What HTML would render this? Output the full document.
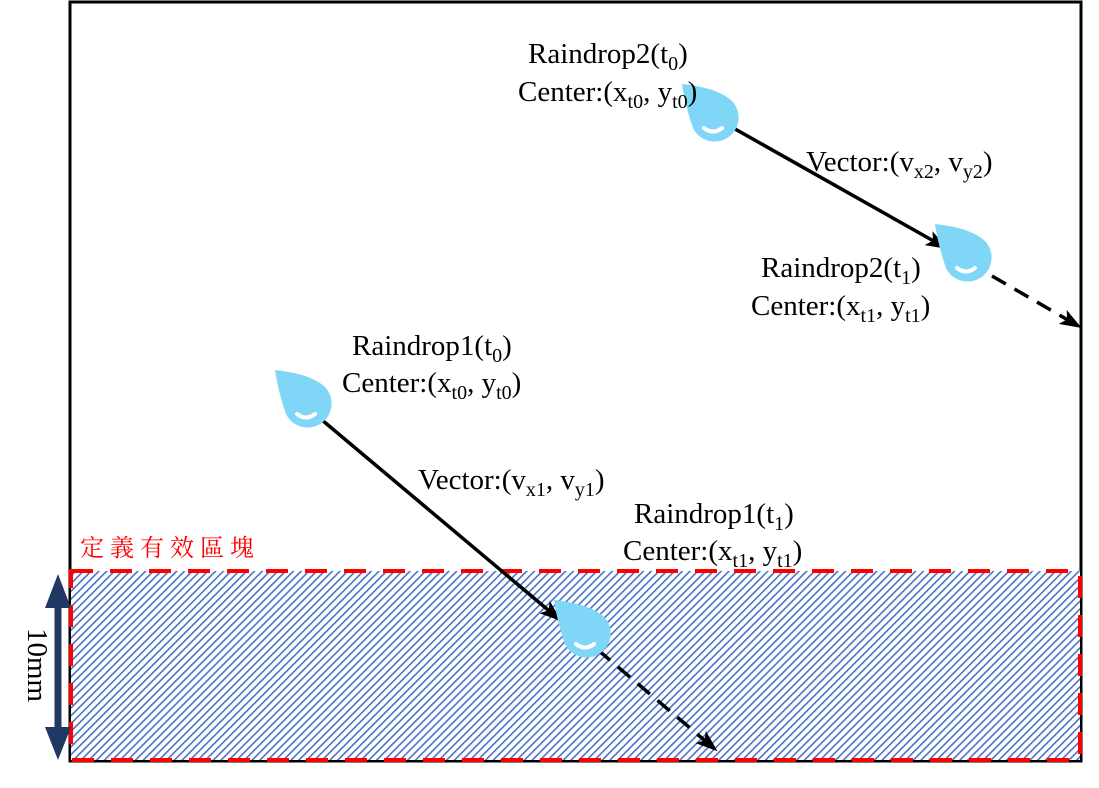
<!DOCTYPE html>
<html><head><meta charset="utf-8"><style>
body{margin:0;background:#fff;}
svg{display:block;}
</style></head><body>
<svg width="1099" height="788" viewBox="0 0 1099 788">
<defs>
<pattern id="h" width="5.5" height="5.5" patternUnits="userSpaceOnUse" patternTransform="rotate(45)">
<rect width="5.5" height="5.5" fill="#fff"/><rect width="1.6" height="5.5" fill="#4a72c8"/>
</pattern>
<marker id="a" markerWidth="24" markerHeight="20" refX="20" refY="10" orient="auto" markerUnits="userSpaceOnUse" viewBox="0 0 24 20">
<path d="M0,2 L22,10 L0,18 L5,10Z" fill="#000"/></marker>
<g id="d">
<path d="M0,0 C18,2 38,6 50,17 A24,24 0 1 1 11,44 C6,30 2,14 0,0Z" fill="#80d6f6"/>
<path d="M22,44 Q31,51 40,44" stroke="#fff" stroke-width="4" fill="none" stroke-linecap="round"/>
</g>
</defs>
<rect x="70" y="2" width="1011" height="759" fill="none" stroke="#000" stroke-width="3"/>
<rect x="71" y="571" width="1009" height="189" fill="url(#h)"/>
<rect x="71" y="571" width="1009" height="189" fill="none" stroke="#f00" stroke-width="4" stroke-dasharray="22,17"/>
<text x="80" y="556" font-family="Noto Serif CJK SC, Noto Sans CJK TC, serif" font-size="24" fill="#f00" letter-spacing="6">定義有效區塊</text>
<line x1="58" y1="600" x2="58" y2="735" stroke="#1f3864" stroke-width="7"/>
<path d="M45,608 L58,574 L71,608Z M45,727 L58,760 L71,727Z" fill="#1f3864"/>
<text transform="translate(28,665) rotate(90)" text-anchor="middle" font-family="Liberation Serif, serif" font-size="29">10mm</text>

<line x1="322" y1="420" x2="560" y2="620" stroke="#000" stroke-width="3.5" marker-end="url(#a)"/>
<line x1="598" y1="650" x2="716" y2="750" stroke="#000" stroke-width="3.5" stroke-dasharray="16,10" marker-end="url(#a)"/>
<line x1="728" y1="125" x2="946" y2="248" stroke="#000" stroke-width="3.5" marker-end="url(#a)"/>
<line x1="992" y1="276" x2="1080" y2="327" stroke="#000" stroke-width="3.5" stroke-dasharray="16,10" marker-end="url(#a)"/>

<use href="#d" x="275" y="370"/>
<use href="#d" x="554" y="600"/>
<use href="#d" x="682" y="84"/>
<use href="#d" x="935" y="224"/>

<g font-family="Liberation Serif, serif" font-size="29" fill="#000">
<text x="528" y="63">Raindrop2(t<tspan font-size="20" dy="7">0</tspan><tspan dy="-7">)</tspan></text>
<text x="518" y="101">Center:(x<tspan font-size="20" dy="7">t0</tspan><tspan dy="-7">, y</tspan><tspan font-size="20" dy="7">t0</tspan><tspan dy="-7">)</tspan></text>
<text x="806" y="171">Vector:(v<tspan font-size="20" dy="7">x2</tspan><tspan dy="-7">, v</tspan><tspan font-size="20" dy="7">y2</tspan><tspan dy="-7">)</tspan></text>
<text x="761" y="277">Raindrop2(t<tspan font-size="20" dy="7">1</tspan><tspan dy="-7">)</tspan></text>
<text x="751" y="315">Center:(x<tspan font-size="20" dy="7">t1</tspan><tspan dy="-7">, y</tspan><tspan font-size="20" dy="7">t1</tspan><tspan dy="-7">)</tspan></text>
<text x="352" y="355">Raindrop1(t<tspan font-size="20" dy="7">0</tspan><tspan dy="-7">)</tspan></text>
<text x="342" y="392">Center:(x<tspan font-size="20" dy="7">t0</tspan><tspan dy="-7">, y</tspan><tspan font-size="20" dy="7">t0</tspan><tspan dy="-7">)</tspan></text>
<text x="418" y="489">Vector:(v<tspan font-size="20" dy="7">x1</tspan><tspan dy="-7">, v</tspan><tspan font-size="20" dy="7">y1</tspan><tspan dy="-7">)</tspan></text>
<text x="634" y="523">Raindrop1(t<tspan font-size="20" dy="7">1</tspan><tspan dy="-7">)</tspan></text>
<text x="623" y="560">Center:(x<tspan font-size="20" dy="7">t1</tspan><tspan dy="-7">, y</tspan><tspan font-size="20" dy="7">t1</tspan><tspan dy="-7">)</tspan></text>
</g>
</svg>
</body></html>
